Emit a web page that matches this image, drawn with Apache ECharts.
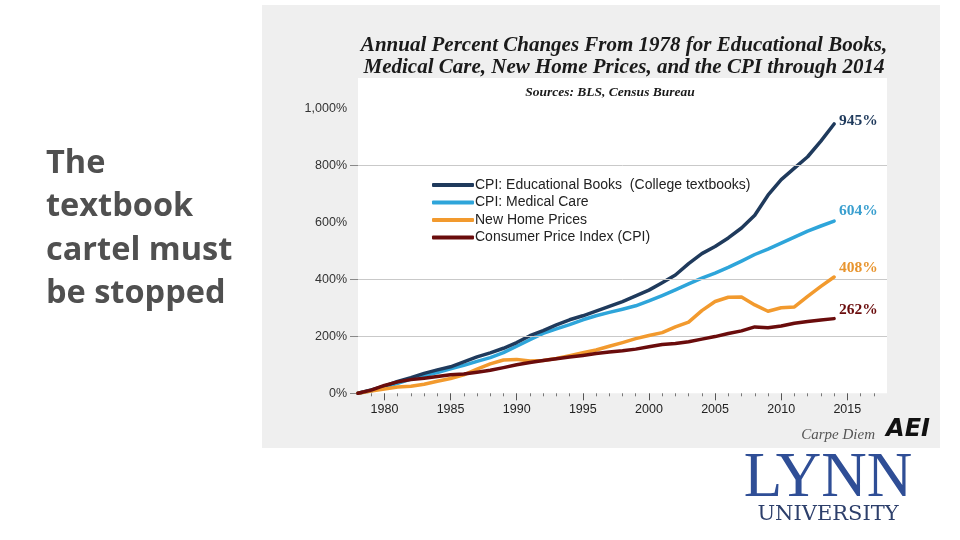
<!DOCTYPE html>
<html>
<head>
<meta charset="utf-8">
<style>
html,body{margin:0;padding:0;background:#ffffff;}
#c{width:960px;height:540px;}
</style>
<script src="https://cdn.jsdelivr.net/npm/echarts@6/dist/echarts.min.js"></script>
</head>
<body>
<div id="c"></div>
<script>
const years = [1978,1979,1980,1981,1982,1983,1984,1985,1986,1987,1988,1989,1990,1991,1992,1993,1994,1995,1996,1997,1998,1999,2000,2001,2002,2003,2004,2005,2006,2007,2008,2009,2010,2011,2012,2013,2014];
const eduBooks = [0,12,25,42,55,70,82,93,110,128,142,158,178,202,220,240,258,272,288,305,322,342,362,388,415,455,490,515,545,580,625,695,750,790,830,885,945];
const medicalCare = [0,9,22,35,50,62,73,86,98,112,125,143,165,188,210,226,241,258,272,284,295,307,324,343,363,384,404,422,442,464,487,506,527,548,569,587,604];
const newHome = [0,8,15,22,25,32,42,52,65,85,103,117,119,113,115,122,132,142,152,165,178,192,203,213,233,250,290,322,337,338,310,288,300,303,340,375,408];
const cpi = [0,11,28,40,48,53,59,65,68,74,81,90,100,108,115,121,127,133,140,145,149,155,163,171,175,181,190,199,210,219,233,230,236,246,252,257,262];
const xLabels = [1980,1985,1990,1995,2000,2005,2010,2015];
const yTicks = [0,200,400,800];
const gridValues = [200,400,800];

const names = ['CPI: Educational Books  (College textbooks)','CPI: Medical Care','New Home Prices','Consumer Price Index (CPI)'];
const colors = ['#1f3a5c','#2ea5da','#f29a2e','#6a0c0c'];
const labelColors = ['#1f3a5c','#3a9fcf','#e8952f','#6a0c0c'];

const minorYears = [];
for (let y = 1979; y <= 2017; y++) if (y % 5 !== 0) minorYears.push(y);

function pairs(arr){ return years.map((y,i)=>[y, arr[i]]); }

function mkSeries(idx, arr, offY, z){
  return {
    name: names[idx], type:'line', data: pairs(arr), symbol:'none', z: z,
    lineStyle:{color: colors[idx], width:3.5, cap:'round', join:'round'},
    itemStyle:{color: colors[idx]},
    endLabel:{show:true, formatter: p => p.value[1] + '%', distance:5, offset:[0,offY],
      color: labelColors[idx], fontFamily:'Liberation Serif', fontWeight:'bold', fontSize:15.5},
    emphasis:{disabled:true}, animation:false
  };
}

const chart = echarts.init(document.getElementById('c'), null, {renderer:'canvas'});
chart.setOption({
  animation:false,
  backgroundColor:'#ffffff',
  grid:{left:358, right:73, top:108.3, bottom:146.7, containLabel:false},
  xAxis:[{
    type:'value', min:1978, max:2018,
    axisLine:{show:false},
    splitLine:{show:false},
    axisTick:{show:true, customValues:xLabels, length:7, lineStyle:{color:'#555'}},
    axisLabel:{customValues:xLabels, margin:10, fontFamily:'Liberation Sans', fontSize:12.5, color:'#222',
      formatter: v => String(v)}
  },{
    type:'value', min:1978, max:2018, position:'bottom',
    axisLine:{show:false}, splitLine:{show:false},
    axisTick:{show:true, customValues:minorYears, length:3, lineStyle:{color:'#777'}},
    axisLabel:{show:false}
  }],
  yAxis:{
    type:'value', min:0, max:1000, interval:200,
    axisLine:{show:false}, splitLine:{show:false},
    axisTick:{show:true, customValues:yTicks, length:8, lineStyle:{color:'#888'}},
    axisLabel:{margin:11, fontFamily:'Liberation Sans', fontSize:12.5, color:'#333',
      formatter: v => v.toLocaleString('en-US') + '%'}
  },
  legend:{
    data:names, orient:'vertical', left:427, top:173, itemWidth:42, itemHeight:4, itemGap:3.5,
    icon:'roundRect', selectedMode:false,
    textStyle:{fontFamily:'Liberation Sans', fontSize:14, color:'#222', lineHeight:13, padding:[0,0,0,-4]}
  },
  series:[
    {type:'line', data:[], z:1, silent:true,
      markLine:{silent:true, symbol:'none', label:{show:false}, animation:false,
        lineStyle:{color:'#c9c9c9', width:1, type:'solid'},
        data: gridValues.map(v=>({yAxis:v}))}},
    mkSeries(1, medicalCare, -10, 3),
    mkSeries(0, eduBooks, -3, 4),
    mkSeries(2, newHome, -9, 5),
    mkSeries(3, cpi, -9, 6)
  ],
  graphic:[
    {type:'rect', z:-10, silent:true, shape:{x:262,y:5,width:678,height:443}, style:{fill:'#efefef'}},
    {type:'rect', z:-9, silent:true, shape:{x:358,y:78,width:529,height:315.3}, style:{fill:'#ffffff'}},
    {type:'text', z:10, x:624, y:56.5, style:{text:'Annual Percent Changes From 1978 for Educational Books,\nMedical Care, New Home Prices, and the CPI through 2014',
      font:'italic bold 21px "Liberation Serif"', fill:'#1a1a1a', textAlign:'center', textVerticalAlign:'middle', lineHeight:22}},
    {type:'text', z:10, x:610, y:93, style:{text:'Sources: BLS, Census Bureau',
      font:'italic bold 13.5px "Liberation Serif"', fill:'#1a1a1a', textAlign:'center', textVerticalAlign:'middle'}},
    {type:'text', z:10, x:46, y:142, style:{text:'The\ntextbook\ncartel must\nbe stopped',
      font:'bold 32.5px "Open Sans"', fill:'#505050', textAlign:'left', textVerticalAlign:'top', lineHeight:43.3}},
    {type:'text', z:10, x:875, y:435, style:{text:'Carpe Diem',
      font:'italic 15px "Liberation Serif"', fill:'#555', textAlign:'right', textVerticalAlign:'middle'}},
    {type:'text', z:10, x:908, y:430, style:{text:'AEI',
      font:'italic 900 24px "DejaVu Sans"', fill:'#111', textAlign:'center', textVerticalAlign:'middle'}},
    {type:'text', z:10, x:828, y:479, style:{text:'LYNN',
      font:'63px "Liberation Serif"', fill:'#2f4e96', textAlign:'center', textVerticalAlign:'middle'}},
    {type:'text', z:10, x:828, y:515, style:{text:'UNIVERSITY',
      font:'21px "DejaVu Serif"', fill:'#2d3f6b', textAlign:'center', textVerticalAlign:'middle'}}
  ]
});
</script>
</body>
</html>
